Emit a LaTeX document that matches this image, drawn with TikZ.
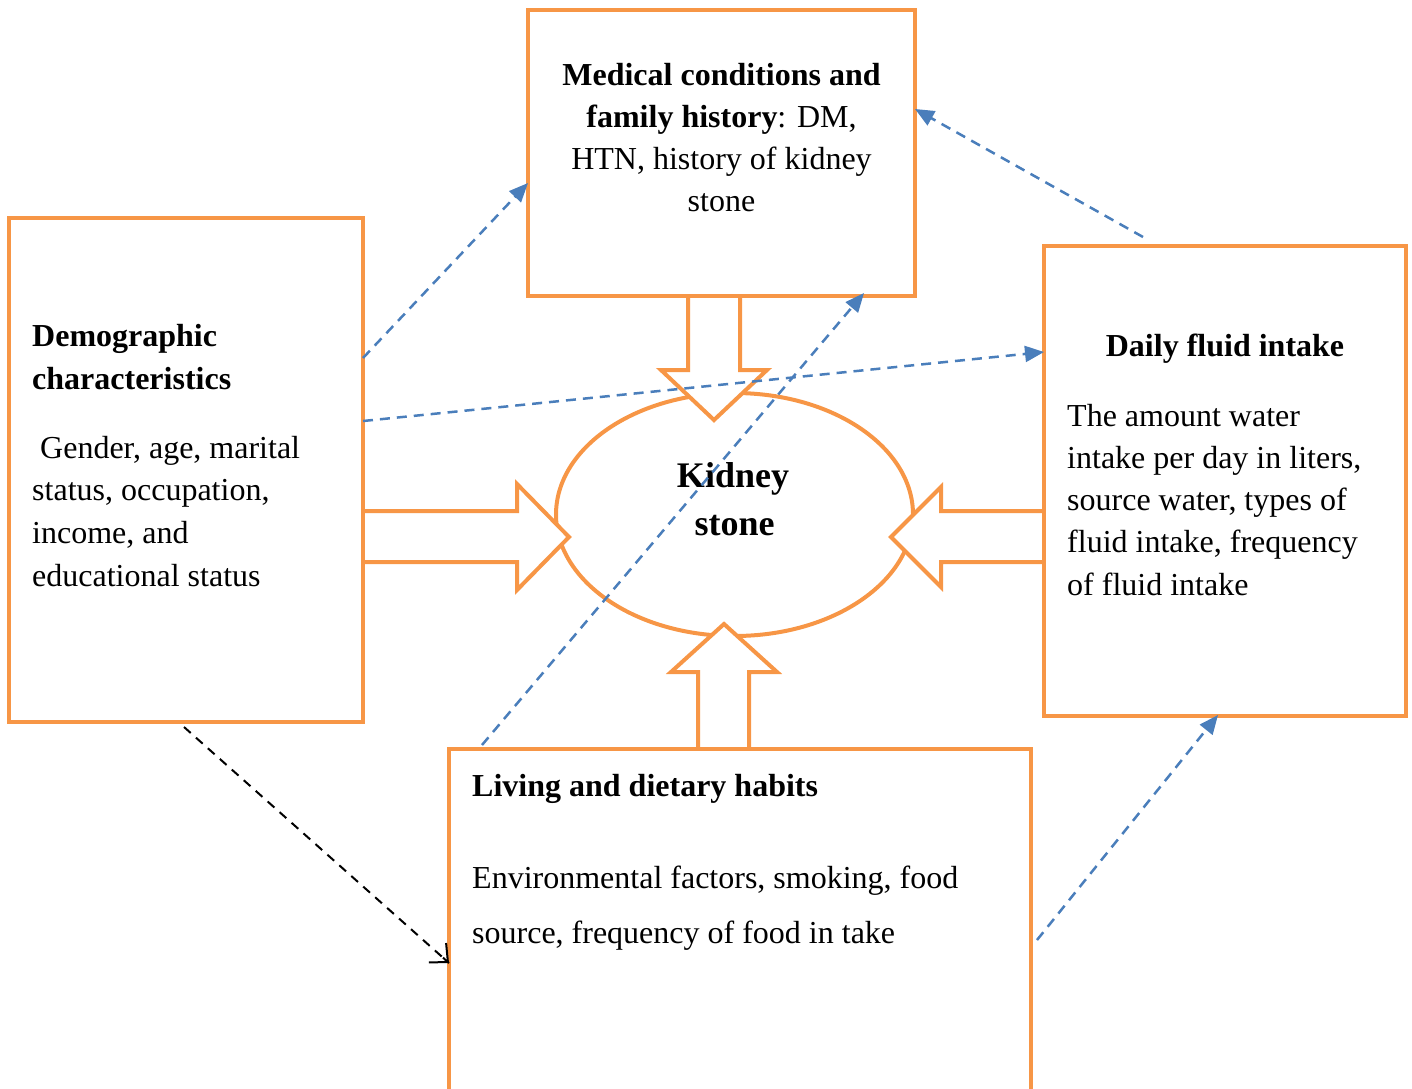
\documentclass[tikz,border=0pt]{standalone}
\usepackage{fontspec}
\setmainfont{Liberation Serif}
\usetikzlibrary{shapes.geometric,arrows.meta,calc}
\definecolor{orng}{HTML}{F79646}
\definecolor{blu}{HTML}{4A7EBB}
\begin{document}
\begin{tikzpicture}[x=1pt,y=-1pt,
  box/.style={draw=orng,line width=4pt,inner sep=0pt,outer sep=0pt},
  blockarrow/.style={draw=orng,line width=4pt,fill=white,line join=miter},
  txt/.style={inner sep=0pt,font=\fontsize{32}{40}\selectfont},
  btxt/.style={inner sep=0pt,font=\bfseries\fontsize{32}{40}\selectfont},
  ktxt/.style={inner sep=0pt,font=\bfseries\fontsize{36}{40}\selectfont},
  link/.style={draw=blu,line width=2.5pt,dash pattern=on 10pt off 7pt,-{Triangle[length=19pt,width=16pt]}},
  blink/.style={draw=black,line width=2pt,dash pattern=on 9pt off 7pt},
  bhead/.style={draw=black,line width=2pt,solid,-{Straight Barb[length=14pt,width=26pt]}}
]
\useasboundingbox (0,0) rectangle (1412,1088);

% central ellipse
\node[ellipse,draw=orng,line width=4pt,inner sep=0pt,minimum width=357pt,minimum height=243pt] (ks) at (734.5,514.5) {};
\node[ktxt,anchor=base] (k1) at (733,487) {Kidney};
\node[ktxt,anchor=base] (k2) at (734.5,535) {stone};

% block arrows
\draw[blockarrow] (688,296) -- (688,370) -- (661,370) -- (714,420) -- (767,370) -- (740,370) -- (740,296);
\draw[blockarrow] (363,511) -- (517,511) -- (517,484) -- (569,537) -- (517,590) -- (517,562) -- (363,562);
\draw[blockarrow] (1044,511) -- (941,511) -- (941,487) -- (891,537) -- (941,587) -- (941,562) -- (1044,562);
\draw[blockarrow] (698,749) -- (698,672) -- (671,672) -- (724,624) -- (777,672) -- (749,672) -- (749,749);

% boxes
\node[box,minimum width=387pt,minimum height=286pt] (med) at (721.5,153) {};
\node[box,minimum width=354pt,minimum height=504pt] (demo) at (186,470) {};
\node[box,minimum width=362pt,minimum height=470pt] (fluid) at (1225,481) {};
\node[box,minimum width=582pt,minimum height=371pt] (living) at (740,934.5) {};

% medical text
\node[btxt,anchor=base] (m1) at (721.5,85) {Medical conditions and};
\node[txt,anchor=base] (m2) at (721.5,127) {\textbf{family history}: DM,};
\node[txt,anchor=base] (m3) at (721.5,169) {HTN, history of kidney};
\node[txt,anchor=base] (m4) at (721.5,211) {stone};

% demographic text
\node[btxt,anchor=base west] (d1) at (32,346) {Demographic};
\node[btxt,anchor=base west] (d2) at (32,389) {characteristics};
\node[txt,anchor=base west] (d3) at (40,458) {Gender, age, marital};
\node[txt,anchor=base west] (d4) at (32,500.5) {status, occupation,};
\node[txt,anchor=base west] (d5) at (32,543) {income, and};
\node[txt,anchor=base west] (d6) at (32,586) {educational status};

% fluid text
\node[btxt,anchor=base] (f1) at (1225,356) {Daily fluid intake};
\node[txt,anchor=base west] (f2) at (1067,426) {The amount water};
\node[txt,anchor=base west] (f3) at (1067,468) {intake per day in liters,};
\node[txt,anchor=base west] (f4) at (1067,510) {source water, types of};
\node[txt,anchor=base west] (f5) at (1067,552) {fluid intake, frequency};
\node[txt,anchor=base west] (f6) at (1067,595) {of fluid intake};

% living text
\node[btxt,anchor=base west] (l1) at (472,796) {Living and dietary habits};
\node[txt,anchor=base west] (l2) at (472,888) {Environmental factors, smoking, food};
\node[txt,anchor=base west] (l3) at (472,943) {source, frequency of food in take};

% dashed connectors
\draw[link] ($(demo.north east)+(0,140)$) -- ($(med.north west)+(0,173)$);
\draw[link] ($(demo.north east)+(0,203)$) -- ($(fluid.north west)+(0,106)$);
\draw[link] ($(fluid.north west)+(99,-9)$) -- ($(med.north east)+(0,99)$);
\draw[link] ($(living.north west)+(33,-4)$) -- ($(med.south west)+(336,-3)$);
\draw[link] ($(living.north east)+(6,191)$) -- ($(fluid.south west)+(174,-1)$);
\coordinate (bs) at ($(demo.south)+(-2,5)$);
\coordinate (be) at ($(living.north west)+(0,214)$);
\draw[blink] (bs) -- (be);
\draw[bhead] ($(be)!8pt!(bs)$) -- (be);
\end{tikzpicture}
\end{document}
